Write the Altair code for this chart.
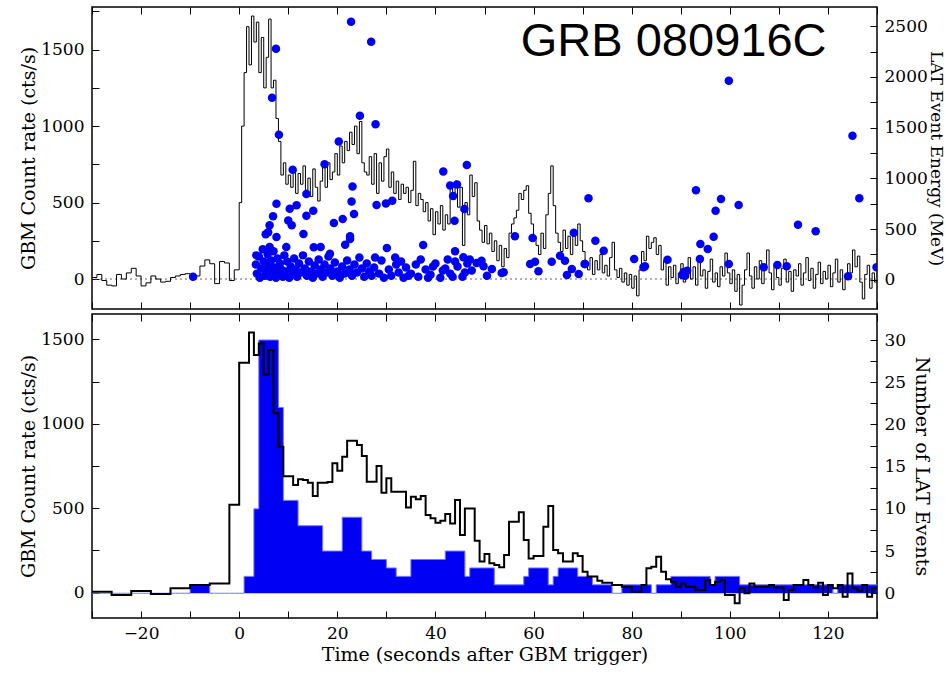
import altair as alt
import pandas as pd

# ---------------- data ----------------
# GBM count rate (cts/s) for the upper panel: 1 s bins from -30 s to 0 s
gbm_fine_pre = [10, 30, -10, -40, -45, 30, 0, 40, 70, 20,
                -45, -25, 20, 0, -20, -15, 10, 20, 30, 35,
                30, 20, 85, 125, 100, -30, 115, 105, -10, 60]
# ... then 0.5 s bins from 0 s to 130 s
gbm_fine_post = [
    500, 1000, 1350, 1650, 1400, 1720, 1550, 1680, 1350, 1580,
    1250, 1450, 1700, 1250, 1300, 1050, 900, 680, 760, 620,
    680, 600, 710, 560, 690, 620, 740, 580, 660, 540,
    720, 600, 510, 640, 730, 600, 760, 650, 700, 820,
    680, 870, 760, 900, 840, 960, 880, 1000, 820, 1030,
    760, 700, 680, 800, 620, 820, 560, 760, 640, 800,
    850, 600, 700, 560, 640, 520, 620, 560, 600, 500,
    580, 770, 480, 560, 520, 440, 500, 380, 460, 290,
    440, 360, 480, 320, 420, 360, 600, 520, 640, 470,
    600, 220, 500, 420, 680, 540, 630, 380, 320, 240,
    350, 230, 300, 180, 250, 120, 220, 80, 200, 140,
    300, 360, 400, 450, 560, 520, 580, 610, 430, 360,
    280, 220, 160, 300, 200, 420, 560, 740, 480, 300,
    240, 180, 320, 200, 280, 160, 300, 220, 360, 250,
    180, 100, 60, 140, 30, 120, 60, 160, 40, 90,
    20, 140, 240, 60, 10, 70, -20, 40, -40, 30,
    -60, 20, -110, 60, 180, 120, 280, 200, 240, 270,
    160, 220, 60, 120, -40, 80, 10, 90, -30, 40,
    100, -20, 60, 140, 0, 80, -40, 110, 20, 60,
    -60, 50, 130, -20, 40, -50, 80, 20, 170, 40,
    -30, 60, -80, 30, -170, -40, 60, 170, 20, -60,
    80, 0, 120, -30, 60, 190, 40, -70, 90, 10,
    -40, 70, 130, -20, 50, -80, 60, 20, 100, -40,
    40, 140, -10, 70, -60, 30, 110, -30, 50, 0,
    90, -50, 40, 130, -20, 60, -70, 20, 100, 40,
    190, 80, 150, -20, -130, 30, 90, -60, 40, -20]

# GBM count rate for the lower panel: 4 s bins from -30 s to -2 s
gbm_coarse_pre = [6, -14, 10, -8, 26, 45, 55]
# ... then 1 s bins from -2 s to 130 s
gbm_coarse_post = [
    520, 520,
    1362, 1362, 1540, 1407, 1476, 1290, 1437, 1062, 864, 690,
    690, 637, 671, 667, 651, 572, 651, 651, 655, 766,
    722, 805, 900, 900, 874, 809, 657, 657, 750, 592,
    677, 598, 598, 598, 505, 568, 553, 572, 460, 440,
    414, 426, 466, 410, 549, 341, 499, 499, 308, 184,
    229, 174, 164, 150, 223, 420, 420, 476, 312, 203,
    217, 217, 391, 513, 253, 233, 184, 184, 233, 217,
    124, 95, 95, 71, 59, 59, 45, 45, 35, 35,
    6, 6, 45, 144, 154, 213, 124, 79, 65, 35,
    55, 35, 35, 16, 16, 75, 45, 65, 75, -14,
    -14, -63, 26, -4, 55, 35, 35, 35, 45, 30,
    30, -43, 16, 45, 45, 75, 45, 30, 59, -14,
    45, 26, 45, -24, 114, 26, 10, 45, -24, 26]

# Number of LAT events in 1 s bins from -30 s to 130 s
lat_counts = [
    0, 0, 0, 0, 0, 0, 0, 0, 0, 0,
    0, 0, 0, 0, 0, 0, 0, 0, 0, 0,
    1, 1, 1, 1, 0, 0, 0, 0, 0, 0,
    0, 2, 2, 10, 30, 30, 30, 30, 22, 11,
    11, 11, 8, 8, 8, 8, 8, 5, 5, 5,
    5, 9, 9, 9, 9, 5, 5, 4, 4, 4,
    3, 3, 2, 2, 2, 4, 4, 4, 4, 4,
    4, 4, 5, 5, 5, 5, 2, 3, 3, 3,
    3, 3, 1, 1, 1, 1, 1, 1, 2, 3,
    3, 3, 3, 1, 2, 3, 3, 3, 3, 2,
    2, 2, 1, 1, 1, 1, 0, 0, 1, 1,
    1, 1, 1, 1, 0, 1, 1, 1, 2, 2,
    2, 2, 2, 2, 2, 2, 1, 2, 2, 2,
    2, 2, 1, 1, 1, 1, 1, 1, 1, 1,
    1, 1, 1, 1, 1, 1, 1, 1, 1, 1,
    1, 0, 1, 1, 1, 1, 1, 1, 1, 1]

# Individual LAT events: arrival time (s) and energy (MeV)
lat_time = [
    -9.4,
    3.4, 3.6, 4.0, 4.2, 4.5, 4.8, 5.0, 5.2, 5.5, 5.8, 6.0, 6.3, 6.5, 6.8, 7.0, 7.2,
    7.5, 7.8, 8.0, 8.3, 8.6, 8.9, 9.2, 9.5, 9.8, 10.2, 10.5, 10.8, 11.2, 11.5, 11.8,
    12.2, 12.6, 13.0, 13.4, 13.8, 14.2, 14.6, 15.0, 15.4, 15.8, 16.2, 16.6, 17.0,
    17.4, 17.8, 18.2, 18.6, 19.0, 19.5, 20.0, 20.5, 21.0, 21.5, 22.0, 22.5, 23.0,
    23.5, 24.0, 24.5, 25.0, 25.5, 26.0, 26.5, 27.0, 27.5, 28.5, 29.0, 29.5, 30.5,
    31.0, 32.0, 32.5, 33.0, 33.5, 34.0, 34.5, 35.0, 36.0, 36.5, 37.0, 38.0, 38.5,
    39.0, 39.5, 40.0, 41.0, 41.5, 42.0, 42.5, 43.0, 43.5, 44.0, 44.5, 45.5, 46.0,
    46.5, 47.0, 47.4, 48.4, 49.4, 49.8, 50.5, 51.5, 53.5, 53.9, 59.3, 60.3, 61.0,
    63.7, 65.4, 66.4, 66.8, 67.8, 69.2, 70.4, 70.5, 80.5, 82.4, 82.7, 87.3, 90.3,
    90.6, 90.9, 91.3, 93.9, 99.8, 106.9, 109.7, 111.6, 124.1, 129.9,
    6.7, 7.5, 8.1, 10.9, 17.4, 20.3, 22.8, 26.9, 24.6, 27.8, 13.7, 23.1, 22.9,
    15.1, 13.7, 23.4, 19.3, 21.1, 13.1, 22.6, 21.6, 15.2, 28.0, 29.9, 31.2, 30.1,
    31.8, 27.7, 37.5, 41.6, 46.4, 43.0, 44.4, 43.6, 45.9, 43.9, 44.0, 45.7, 56.2,
    59.8, 68.2, 71.2, 72.6, 74.3, 7.6, 10.3, 11.7, 6.9, 10.0, 10.7, 6.2, 5.4, 7.6,
    3.5, 6.2, 9.6, 16.6, 18.5, 5.9, 22.6, 93.1, 98.2, 97.1, 101.8, 113.9, 117.5,
    96.7, 94.0, 95.5, 125.0, 126.4, 99.8]
lat_energy = [
    30,
    150, 60, 230, 20, 110, 300, 180, 40, 90, 250, 140, 30, 190, 70, 280, 120,
    20, 210, 60, 160, 100, 30, 240, 80, 180, 20, 130, 60, 210, 100, 30,
    160, 70, 240, 110, 40, 180, 80, 20, 140, 60, 200, 100, 30,
    150, 70, 230, 110, 40, 170, 80, 20, 130, 60, 190, 100, 40,
    150, 70, 220, 110, 30, 160, 80, 40, 120, 60, 190, 20, 100,
    40, 150, 70, 180, 20, 120, 40, 60, 150, 30, 200, 100, 20,
    50, 130, 160, 20, 90, 110, 200, 60, 30, 180, 130, 30, 70,
    160, 200, 90, 165, 187, 132, 39, 106, 66, 73, 155, 178, 83,
    178, 237, 187, 46, 106, 56, 155, 155, 204, 122, 132, 197, 46,
    75, 40, 89, 204, 155, 122, 145, 132, 33, 122,
    1795, 2278, 1430, 1085, 1140, 1363, 2545, 2347, 1617, 1533, 845, 919, 771,
    680, 631, 648, 559, 599, 450, 428, 345, 320, 737, 752, 779, 312,
    218, 218, 343, 1067, 1132, 930, 940, 826, 697, 582, 280, 221, 428,
    412, 464, 803, 385, 286, 750, 700, 734, 625, 585, 536, 536, 448, 421,
    240, 322, 322, 322, 256, 467, 401, 882, 796, 680, 738, 542, 478,
    424, 352, 303, 1420, 803, 1963]

x_tick_values = [-30, -20, -10, 0, 10, 20, 30, 40, 50, 60, 70, 80, 90, 100, 110, 120, 130]
count_ticks_top = [0, 250, 500, 750, 1000, 1250, 1500, 1750]
count_ticks_bottom = [0, 250, 500, 750, 1000, 1250, 1500]
energy_ticks = [0, 250, 500, 750, 1000, 1250, 1500, 1750, 2000, 2250, 2500]
event_ticks = [0, 2.5, 5, 7.5, 10, 12.5, 15, 17.5, 20, 22.5, 25, 27.5, 30]
zero_level = [0]
grb_label = ["GRB 080916C"]

# ---------------- tables ----------------
fine_t = [-30 + i for i in range(len(gbm_fine_pre))] + [0.5 * i for i in range(len(gbm_fine_post))] + [130]
fine_df = pd.DataFrame({"t": fine_t, "rate": gbm_fine_pre + gbm_fine_post + [gbm_fine_post[-1]]})

coarse_t = [-30 + 4 * i for i in range(len(gbm_coarse_pre))] + [-2 + i for i in range(len(gbm_coarse_post))] + [130]
coarse_df = pd.DataFrame({"t": coarse_t, "rate": gbm_coarse_pre + gbm_coarse_post + [gbm_coarse_post[-1]]})

lat_hist_df = pd.DataFrame({"t": [-30 + i for i in range(len(lat_counts))] + [130],
                            "n": lat_counts + [lat_counts[-1]]})
events_df = pd.DataFrame({"t": lat_time, "E": lat_energy})
zero_df = pd.DataFrame({"y": zero_level})
label_df = pd.DataFrame({"label": grb_label})

# ---------------- scales & axes ----------------
FONT = "DejaVu Serif"
W = 785
x_scale = alt.Scale(domain=[-30, 130], nice=False, zero=False)
count_top = alt.Scale(domain=[-196, 1779], nice=False, zero=False)
energy_scale = alt.Scale(domain=[-289, 2690], nice=False, zero=False)
count_bot = alt.Scale(domain=[-150, 1650], nice=False, zero=False)
events_scale = alt.Scale(domain=[-2.93, 33.08], nice=False, zero=False)

common = dict(domain=False, grid=False, tickSize=7, offset=-7, tickColor="black", tickWidth=1,
              labelFont=FONT, labelFontSize=17, labelColor="black",
              titleFont=FONT, titleFontWeight="normal", titleColor="black",
              labelOverlap=False, labelFlush=False)

x_bottom_plain = alt.Axis(orient="bottom", values=x_tick_values, labels=False, title=None, **common)
x_top_plain = alt.Axis(orient="top", values=x_tick_values, labels=False, title=None, **common)
x_bottom_labeled = alt.Axis(orient="bottom", values=x_tick_values, format="d",
                            labelExpr="datum.value % 20 === 0 ? datum.label : ''",
                            labelPadding=7, title="Time (seconds after GBM trigger)",
                            titleFontSize=19, titleY=49, titleBaseline="alphabetic", **common)


def left_axis(vals):
    return alt.Axis(orient="left", values=vals, format="d",
                    labelExpr="datum.value % 500 === 0 ? datum.label : ''",
                    labelPadding=8, title="GBM Count rate (cts/s)",
                    titleFontSize=19, titleX=-65, titleBaseline="alphabetic", **common)


energy_axis = alt.Axis(orient="right", values=energy_ticks, format="d",
                       labelExpr="datum.value % 500 === 0 ? datum.label : ''",
                       labelPadding=7, title="LAT Event Energy (MeV)",
                       titleFontSize=17, titleX=60, titleBaseline="alphabetic", **common)
events_axis = alt.Axis(orient="right", values=event_ticks, format="d",
                       labelExpr="datum.value % 5 === 0 ? datum.label : ''",
                       labelPadding=7, title="Number of LAT Events",
                       titleFontSize=19, titleX=45, titleBaseline="alphabetic", **common)

BLUE = "#0000f5"

# ---------------- top panel ----------------
zero_rule = alt.Chart(zero_df).mark_rule(color="#666666", strokeDash=[2, 3], strokeWidth=1).encode(
    y=alt.Y("y:Q", scale=count_top, axis=None))
gbm_fine = alt.Chart(fine_df).mark_line(interpolate="step-after", color="black", strokeWidth=1, clip=True).encode(
    x=alt.X("t:Q", scale=x_scale, axis=x_bottom_plain),
    y=alt.Y("rate:Q", scale=count_top, axis=left_axis(count_ticks_top)))
dots = alt.Chart(events_df).mark_circle(size=72, color=BLUE, opacity=1, clip=True).encode(
    x=alt.X("t:Q", scale=x_scale, axis=x_top_plain),
    y=alt.Y("E:Q", scale=energy_scale, axis=energy_axis))
label = alt.Chart(label_df).mark_text(align="left", baseline="alphabetic", font="Liberation Sans",
                                      fontSize=47, color="black").encode(
    x=alt.XDatum(57.4, type="quantitative", scale=x_scale, axis=None),
    y=alt.YDatum(1460, type="quantitative", scale=count_top, axis=None),
    text="label:N")

top = alt.layer(zero_rule, gbm_fine, dots, label).resolve_scale(y="independent").properties(width=W, height=302)

# ---------------- bottom panel ----------------
lat_area = alt.Chart(lat_hist_df).mark_area(interpolate="step-after", color=BLUE, opacity=1, clip=True).encode(
    x=alt.X("t:Q", scale=x_scale, axis=x_bottom_labeled),
    y=alt.Y("n:Q", scale=events_scale, axis=events_axis),
    y2=alt.datum(0))
lat_outline = alt.Chart(lat_hist_df).mark_line(interpolate="step-after", color="#7474ff", strokeWidth=1, clip=True).encode(
    x=alt.X("t:Q", scale=x_scale, axis=None),
    y=alt.Y("n:Q", scale=events_scale, axis=None))
gbm_coarse = alt.Chart(coarse_df).mark_line(interpolate="step-after", color="black", strokeWidth=2, clip=True).encode(
    x=alt.X("t:Q", scale=x_scale, axis=x_top_plain),
    y=alt.Y("rate:Q", scale=count_bot, axis=left_axis(count_ticks_bottom)))

bottom = alt.layer(lat_area, lat_outline, gbm_coarse).resolve_scale(y="independent").properties(width=W, height=304)

chart = alt.vconcat(top, bottom, spacing=1).properties(
    padding={"left": 18, "top": 1, "right": 0, "bottom": 2},
    background="white",
).configure_view(stroke="black", strokeWidth=1.5)

chart.save("out.html", embed_options={"renderer": "svg", "actions": False})
